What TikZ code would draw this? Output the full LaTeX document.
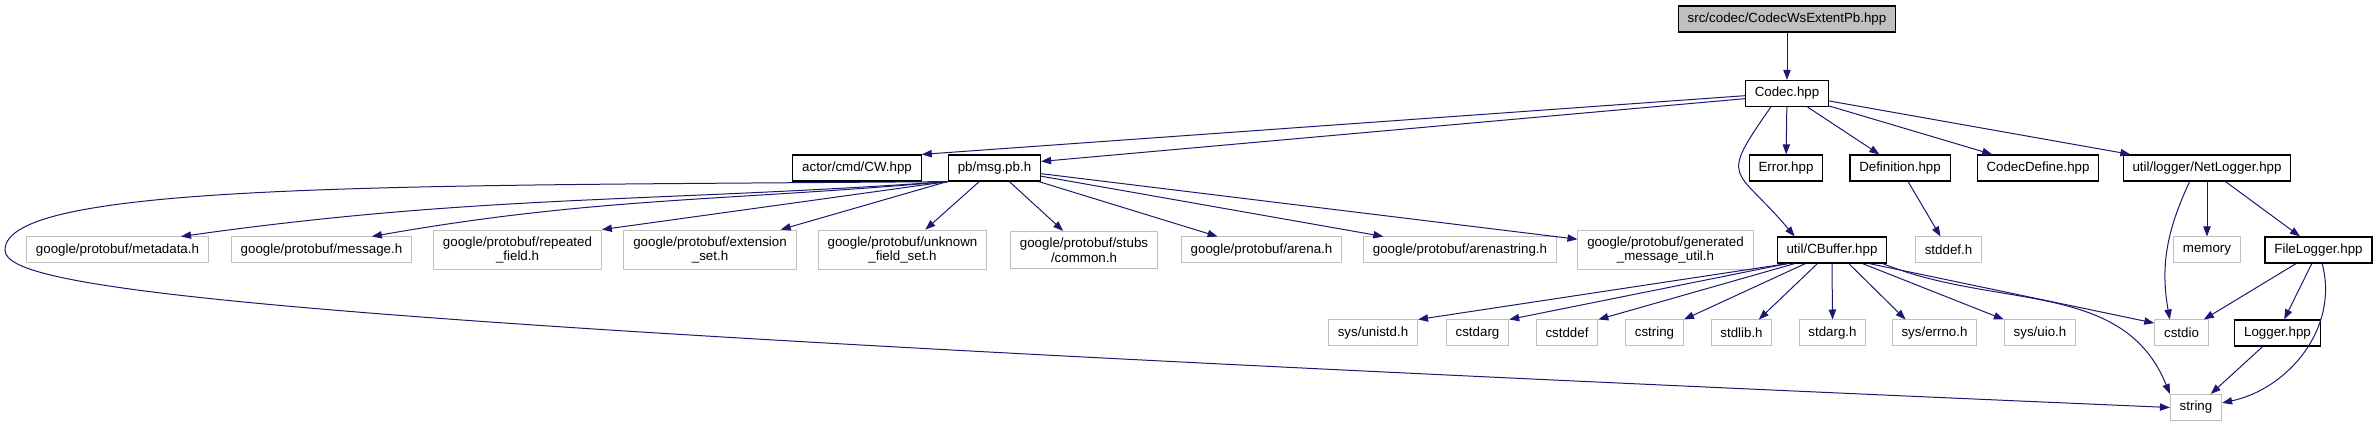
\documentclass[tikz,border=0pt]{standalone}
\usepackage{fontspec}
\setmainfont{Liberation Sans}
\usetikzlibrary{arrows.meta}
\definecolor{edgeblue}{HTML}{191970}
\definecolor{boxgrey}{HTML}{BFBFBF}
\tikzset{
  box/.style={draw, align=center, inner xsep=7pt, inner ysep=4.8pt, minimum height=19.5pt, fill=white, font=\fontsize{10}{11}\selectfont},
  kroot/.style={box, fill=boxgrey, line width=0.9pt},
  kfile/.style={box, line width=0.9pt},
  ksys/.style={box, draw=boxgrey, line width=0.75pt},
  incl/.style={-{Triangle[length=7.5pt, width=5.5pt]}, draw=edgeblue, line width=0.75pt},
}

\begin{document}
\begin{tikzpicture}[x=0.75pt, y=-0.75pt]
    \useasboundingbox (0,0) rectangle (2378,427);
    % rank 0 and 1
    \node[kroot] (root) at (1787,19) {src/codec/CodecWsExtentPb.hpp};
    \node[kfile] (codec) at (1787,93.5) {Codec.hpp};
    % rank 2
    \node[kfile] (cw) at (857,168) {actor/cmd/CW.hpp};
    \node[kfile] (pb) at (994.5,168) {pb/msg.pb.h};
    \node[kfile] (err) at (1786,168) {Error.hpp};
    \node[kfile] (def) at (1900,168) {Definition.hpp};
    \node[kfile] (cdef) at (2038,168) {CodecDefine.hpp};
    \node[kfile] (netlog) at (2207,168) {util/logger/NetLogger.hpp};
    % rank 3
    \node[ksys] (meta) at (117.5,250) {google/protobuf/metadata.h};
    \node[ksys] (msg) at (321.5,250) {google/protobuf/message.h};
    \node[ksys] (rep) at (517.5,250) {google/protobuf/repeated\\\_field.h};
    \node[ksys] (ext) at (710,250) {google/protobuf/extension\\\_set.h};
    \node[ksys] (unk) at (902.5,250) {google/protobuf/unknown\\\_field\_set.h};
    \node[ksys] (stubs) at (1084,250) {google/protobuf/stubs\\/common.h};
    \node[ksys] (arena) at (1261.5,250) {google/protobuf/arena.h};
    \node[ksys] (astr) at (1460,250) {google/protobuf/arenastring.h};
    \node[ksys] (gen) at (1665.5,250) {google/protobuf/generated\\\_message\_util.h};
    \node[kfile] (cbuf) at (1832,250) {util/CBuffer.hpp};
    \node[ksys] (stddef) at (1948.5,250) {stddef.h};
    \node[ksys] (mem) at (2207,250) {memory};
    \node[kfile] (filelog) at (2318.5,250) {FileLogger.hpp};
    % rank 4
    \node[ksys] (unistd) at (1373,333) {sys/unistd.h};
    \node[ksys] (cstdarg) at (1477.5,333) {cstdarg};
    \node[ksys] (cstddef) at (1567,333) {cstddef};
    \node[ksys] (cstring) at (1654.5,333) {cstring};
    \node[ksys] (stdlib) at (1741.5,333) {stdlib.h};
    \node[ksys] (stdarg) at (1832.5,333) {stdarg.h};
    \node[ksys] (errno) at (1934.5,333) {sys/errno.h};
    \node[ksys] (uio) at (2040,333) {sys/uio.h};
    \node[ksys] (cstdio) at (2181.5,333) {cstdio};
    \node[kfile] (logger) at (2277.5,333) {Logger.hpp};
    % rank 5
    \node[ksys] (str) at (2196,407.5) {string};

    \draw[incl] (root) -- (codec);
    \draw[incl] (codec.183) -- (cw.north east);
    \draw[incl] (codec.187) -- (pb.8);
    \draw[incl] (codec.220) to[out=235, in=130, looseness=1.8] (cbuf.160);
    \draw[incl] (codec) -- (err);
    \draw[incl] (codec) -- (def);
    \draw[incl] (codec) -- (cdef);
    \draw[incl] (codec) -- (netlog);
    % pb/msg.pb.h
    \draw[incl] (pb.south west) to[out=184, in=8] (meta.12);
    \draw[incl] (pb.south west) to[out=185, in=10] (msg.15);
    \draw[incl] (pb.south west) -- (rep.north east);
    \draw[incl] (pb) -- (ext);
    \draw[incl] (pb) -- (unk);
    \draw[incl] (pb) -- (stubs);
    \draw[incl] (pb) -- (arena);
    \draw[incl] (pb) -- (astr);
    \draw[incl] (pb) -- (gen);
    \draw[incl] (pb.south west) .. controls (400,186) and (5,182) .. (5,250)
                                .. controls (5,290) and (250,325) .. (str.west);
    \draw[incl] (def) -- (stddef);
    % util/CBuffer.hpp
    \draw[incl] (cbuf.197) -- (unistd.north east);
    \draw[incl] (cbuf.197) -- (cstdarg.north east);
    \draw[incl] (cbuf.200) -- (cstddef.north east);
    \draw[incl] (cbuf.207) -- (cstring.north east);
    \draw[incl] (cbuf.223) -- (stdlib.38);
    \draw[incl] (cbuf.south) -- (stdarg.north);
    \draw[incl] (cbuf.321) -- (errno.155);
    \draw[incl] (cbuf.336) -- (uio.north west);
    \draw[incl] (cbuf.340) -- (cstdio.160);
    \draw[incl] (cbuf.345) to[out=-22, in=112] (str.north west);
    % loggers
    \draw[incl] (netlog.218) to[out=245, in=100] (cstdio.131);
    \draw[incl] (netlog) -- (mem);
    \draw[incl] (netlog) -- (filelog);
    \draw[incl] (filelog) -- (cstdio);
    \draw[incl] (filelog) -- (logger);
    \draw[incl] (filelog.285) to[out=-75, in=12] (str.10);
    \draw[incl] (logger) -- (str);
  \end{tikzpicture}
\end{document}
